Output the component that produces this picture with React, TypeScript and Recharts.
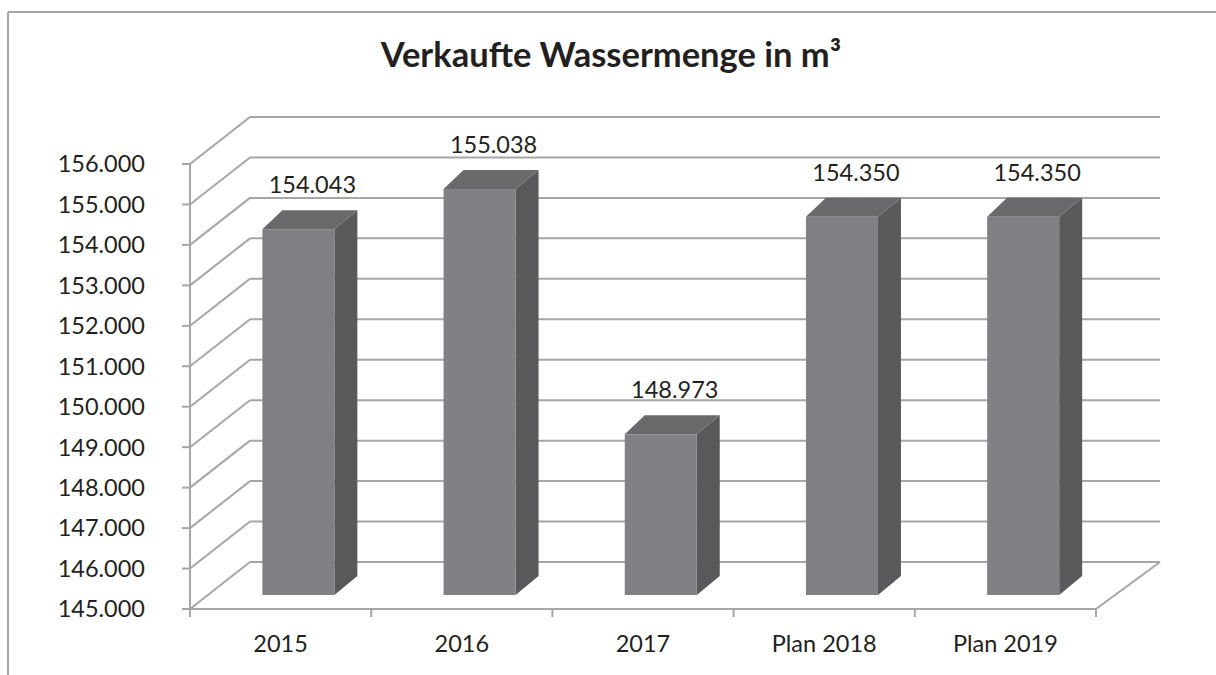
import { BarChart, Bar, XAxis, YAxis, CartesianGrid, LabelList } from 'recharts';

// Verkaufte Wassermenge (m³) je Jahr
const categories = ['2015', '2016', '2017', 'Plan 2018', 'Plan 2019'];
const volumes = [154043, 155038, 148973, 154350, 154350];
const yTicks = [145000, 146000, 147000, 148000, 149000, 150000, 151000, 152000, 153000, 154000, 155000, 156000];

const data = categories.map((name, i) => ({ name, value: volumes[i] }));

const WIDTH = 1216;
const HEIGHT = 675;
const FONT = 'Lato, "Open Sans", sans-serif';
const FONT_SIZE = 23.5;
const TEXT = '#231f20';
const GRID = '#a6a6a6';

// 3d look: back wall offset and bar depth
const WALL_DX_LEFT = 60;
const WALL_DX_RIGHT = 64;
const WALL_DY = -47;
const BAR_SHIFT_X = 18;
const BAR_SHIFT_Y = -14;
const BAR_DX = 23;
const BAR_DY = -19;

const TICK_SIZE = 8;
const X_TICK_MARGIN = 18;

// 154043 -> "154.043"
const fmt = (v: number) => String(Math.round(v)).replace(/\B(?=(\d{3})+(?!\d))/g, '.');

const Bar3D = (props: any) => {
  const { x, y, width, height } = props;
  if (width == null || height == null) return null;
  const fx = x + BAR_SHIFT_X;
  const fy = y + BAR_SHIFT_Y;
  const r = fx + width;
  const b = fy + height;
  return (
    <g>
      <polygon
        points={`${r},${fy} ${r + BAR_DX},${fy + BAR_DY} ${r + BAR_DX},${b + BAR_DY} ${r},${b}`}
        fill="#58595b"
      />
      <polygon
        points={`${fx},${fy} ${fx + BAR_DX - 3},${fy + BAR_DY} ${r + BAR_DX},${fy + BAR_DY} ${r},${fy}`}
        fill="#69696b"
      />
      <rect x={fx} y={fy} width={width} height={height} fill="#808184" />
    </g>
  );
};

const WallLine = (props: any) => {
  const { x1, y1, x2, index } = props;
  const by = y1 + WALL_DY;
  return (
    <g key={`wall-${index}`}>
      <line x1={x1} y1={y1} x2={x1 + WALL_DX_LEFT} y2={by} stroke={GRID} strokeWidth={2} />
      <line x1={x1 + WALL_DX_LEFT} y1={by} x2={x2 + WALL_DX_RIGHT} y2={by} stroke={GRID} strokeWidth={2} />
      {index === 0 && (
        <line x1={x2} y1={y1} x2={x2 + WALL_DX_RIGHT} y2={by} stroke={GRID} strokeWidth={2} />
      )}
    </g>
  );
};

const XTick = (props: any) => {
  const { x, y, payload, index, visibleTicksCount } = props;
  const half = payload?.offset || 90.6;
  const axisY = y - X_TICK_MARGIN - TICK_SIZE;
  return (
    <g>
      <line x1={x - half} y1={axisY} x2={x - half} y2={axisY + TICK_SIZE} stroke={GRID} strokeWidth={2} />
      {index === visibleTicksCount - 1 && (
        <line x1={x + half} y1={axisY} x2={x + half} y2={axisY + TICK_SIZE} stroke={GRID} strokeWidth={2} />
      )}
      <text x={x} y={y} dy="0.71em" textAnchor="middle" fill={TEXT} fontSize={FONT_SIZE} fontFamily={FONT}>
        {payload.value}
      </text>
    </g>
  );
};

const ValueLabel = (props: any) => {
  const { x, y, width, value } = props;
  const cx = x + BAR_SHIFT_X + width / 2 + 14;
  const cy = y + BAR_SHIFT_Y - 44;
  return (
    <text x={cx} y={cy + 8} textAnchor="middle" fill={TEXT} fontSize={FONT_SIZE} fontFamily={FONT}>
      {fmt(value)}
    </text>
  );
};

export default function App() {
  return (
    <div
      style={{
        position: 'absolute',
        left: 0,
        top: 0,
        width: WIDTH,
        height: HEIGHT,
        overflow: 'hidden',
        background: '#fff',
      }}
    >
      <svg width={WIDTH} height={HEIGHT} style={{ position: 'absolute', left: 0, top: 0 }}>
        <line x1={8} y1={12} x2={WIDTH} y2={12} stroke={GRID} strokeWidth={2} />
        <line x1={8} y1={12} x2={8} y2={HEIGHT} stroke={GRID} strokeWidth={2} />
        <text x={611} y={67} textAnchor="middle" fontSize={34.5} fontWeight="bold" fill={TEXT} fontFamily={FONT}>
          Verkaufte Wassermenge in m³
        </text>
      </svg>
      <div style={{ position: 'absolute', left: 0, top: 0 }}>
        <BarChart
          width={WIDTH}
          height={HEIGHT}
          data={data}
          margin={{ top: 164, right: 120, bottom: 26, left: 60 }}
          barCategoryGap="30%"
        >
          <CartesianGrid vertical={false} horizontal={WallLine} />
          <XAxis
            dataKey="name"
            height={40}
            axisLine={{ stroke: GRID, strokeWidth: 2 }}
            tickLine={false}
            tickSize={TICK_SIZE}
            tickMargin={X_TICK_MARGIN}
            tick={<XTick />}
            interval={0}
          />
          <YAxis
            width={130}
            domain={[145000, 156000]}
            ticks={yTicks}
            interval={0}
            tickFormatter={fmt}
            axisLine={{ stroke: GRID, strokeWidth: 2 }}
            tickLine={{ stroke: GRID, strokeWidth: 2 }}
            tickSize={TICK_SIZE}
            tickMargin={37}
            tick={{ fill: TEXT, fontSize: FONT_SIZE, fontFamily: FONT }}
          />
          <Bar dataKey="value" shape={<Bar3D />} isAnimationActive={false}>
            <LabelList dataKey="value" content={<ValueLabel />} />
          </Bar>
        </BarChart>
      </div>
    </div>
  );
}
